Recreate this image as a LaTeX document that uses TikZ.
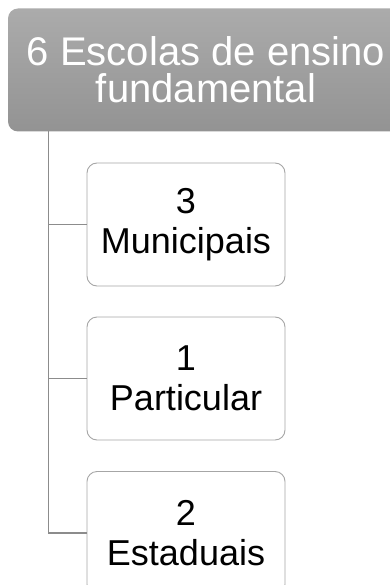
\documentclass[tikz,border=0pt]{standalone}
\usepackage{fontspec}
\setmainfont{Liberation Sans}
\usetikzlibrary{positioning}

\definecolor{topgray}{HTML}{ABABAB}
\definecolor{botgray}{HTML}{939393}
\definecolor{linegray}{HTML}{8C8C8C}
\definecolor{edgegray}{HTML}{A6A6A6}

\begin{document}
\begin{tikzpicture}[
  x=1pt, y=-1pt,
  root/.style={rounded corners=10pt, top color=topgray, bottom color=botgray,
               draw=none, minimum width=396pt, minimum height=123pt,
               text=white, align=center, font=\fontsize{40}{37}\selectfont},
  kind/.style={draw=edgegray, line width=0.9pt, rounded corners=10pt, fill=white,
               minimum width=198pt, minimum height=123pt,
               align=center, font=\fontsize{36}{40}\selectfont},
  link/.style={draw=linegray, line width=1.4pt}
]
  \useasboundingbox (0,0) rectangle (390,585);
  \clip (0,0) rectangle (390,585);

  \node[root] (top) at (206,70) {6 Escolas de ensino\\fundamental};
  \node[kind] (mun) at (186,224.5) {3\\Municipais};
  \node[kind] (par) at (186,378.5) {1\\Particular};
  \node[kind] (est) at (186,533) {2\\Estaduais};

  \coordinate (trunk) at (48.5,131.5);
  \draw[link] (trunk) |- (mun.west);
  \draw[link] (trunk) |- (par.west);
  \draw[link] (trunk) |- (est.west);
\end{tikzpicture}
\end{document}
